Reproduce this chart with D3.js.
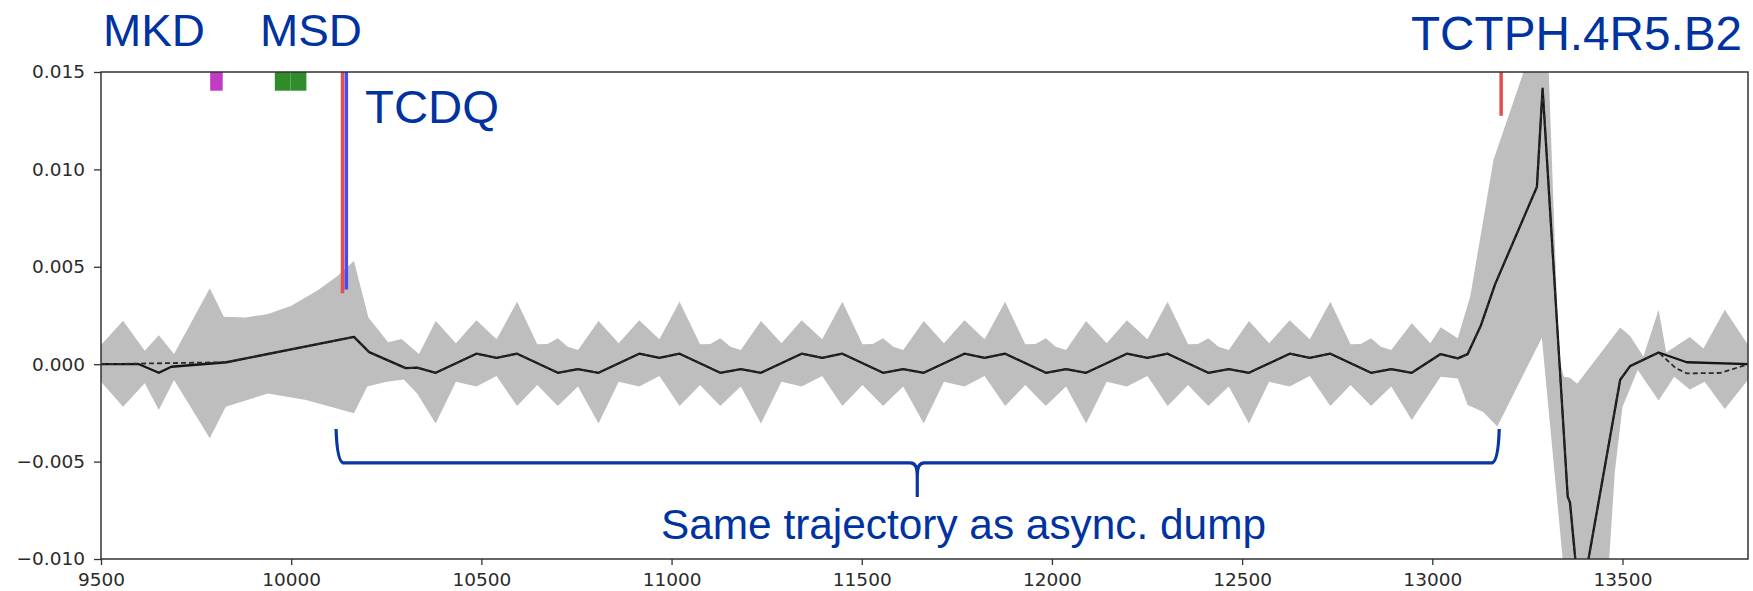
<!DOCTYPE html>
<html><head><meta charset="utf-8">
<script src="https://cdn.jsdelivr.net/npm/d3@7"></script>
<style>html,body{margin:0;padding:0;background:#fff;}svg{display:block;}</style>
</head><body>
<svg id="chart" width="1753" height="591"></svg>
<script>
// ---------- DATA ----------
const xTicks = [9500, 10000, 10500, 11000, 11500, 12000, 12500, 13000, 13500];
const xTickLabels = ["9500","10000","10500","11000","11500","12000","12500","13000","13500"];
const yTicks = [-0.010, -0.005, 0.000, 0.005, 0.010, 0.015];
const yTickLabels = ["\u22120.010","\u22120.005","0.000","0.005","0.010","0.015"];

// upper envelope of grey band
const bandUpperX = [9500, 9558, 9615, 9652, 9692, 9786, 9823, 9880, 9939, 9999, 10070, 10120, 10165, 10203, 10255, 10290, 10336,
 10380, 10433, 10487, 10540, 10594, 10647, 10674, 10701, 10727, 10754,
 10808, 10861, 10915, 10968, 11021, 11075, 11102, 11128, 11155, 11182,
 11235, 11289, 11342, 11396, 11449, 11502, 11529, 11556, 11583, 11609,
 11663, 11716, 11770, 11823, 11877, 11930, 11957, 11984, 12010, 12037,
 12090, 12144, 12197, 12251, 12304, 12358, 12384, 12411, 12438, 12465,
 12518, 12571, 12625, 12678, 12732, 12785, 12812, 12839, 12865, 12892,
 12946, 12995, 13022, 13067, 13100, 13161, 13240, 13300, 13333, 13346, 13362, 13381, 13494, 13520, 13555, 13595, 13615, 13677, 13713, 13769, 13830];
const bandUpperY = [0.00099, 0.00223, 0.00069, 0.00148, 0.00052, 0.0039, 0.00244, 0.0024, 0.00258, 0.00299, 0.0038, 0.0045, 0.0053, 0.00240, 0.00113, 0.00130, 0.00052,
 0.00222, 0.00107, 0.00225, 0.00128, 0.00321, 0.00102, 0.00104, 0.00133, 0.0009, 0.00073,
 0.00222, 0.00107, 0.00225, 0.00128, 0.00321, 0.00102, 0.00104, 0.00133, 0.0009, 0.00073,
 0.00222, 0.00107, 0.00225, 0.00128, 0.00321, 0.00102, 0.00104, 0.00133, 0.0009, 0.00073,
 0.00222, 0.00107, 0.00225, 0.00128, 0.00321, 0.00102, 0.00104, 0.00133, 0.0009, 0.00073,
 0.00222, 0.00107, 0.00225, 0.00128, 0.00321, 0.00102, 0.00104, 0.00133, 0.0009, 0.00073,
 0.00222, 0.00107, 0.00225, 0.00128, 0.00321, 0.00102, 0.00104, 0.00133, 0.0009, 0.00073,
 0.0021, 0.00107, 0.0019, 0.00133, 0.0035, 0.0105, 0.015, 0.0184, 0.0003, -0.00064, -0.0007, -0.001, 0.00188, 0.00145, 0.0004, 0.0028, 0.0006, 0.0014, 0.0008, 0.0028, 0.001];

// lower envelope of grey band
const bandLowerX = [9500, 9558, 9615, 9652, 9692, 9786, 9828, 9939, 10039, 10165, 10200, 10251, 10296, 10331,
 10380, 10433, 10487, 10540, 10594, 10647, 10701, 10754,
 10808, 10861, 10915, 10968, 11021, 11075, 11128, 11182,
 11235, 11289, 11342, 11396, 11449, 11502, 11556, 11609,
 11663, 11716, 11770, 11823, 11877, 11930, 11984, 12037,
 12090, 12144, 12197, 12251, 12304, 12358, 12411, 12465,
 12518, 12571, 12625, 12678, 12732, 12785, 12839, 12892,
 12946, 13022, 13067, 13093, 13133, 13171, 13288, 13350, 13460, 13480, 13500, 13540, 13595, 13636, 13677, 13716, 13769, 13830];
const bandLowerY = [-0.0009, -0.00218, -0.00098, -0.00235, -0.00081, -0.0038, -0.00218, -0.0015, -0.00184, -0.00252, -0.00115, -0.0009, -0.00078, -0.0015,
 -0.00305, -0.0009, -0.00115, -0.00061, -0.00215, -0.00107, -0.00215, -0.00115,
 -0.00305, -0.0009, -0.00115, -0.00061, -0.00215, -0.00107, -0.00215, -0.00115,
 -0.00305, -0.0009, -0.00115, -0.00061, -0.00215, -0.00107, -0.00215, -0.00115,
 -0.00305, -0.0009, -0.00115, -0.00061, -0.00215, -0.00107, -0.00215, -0.00115,
 -0.00305, -0.0009, -0.00115, -0.00061, -0.00215, -0.00107, -0.00215, -0.00115,
 -0.00305, -0.0009, -0.00115, -0.00061, -0.00215, -0.00107, -0.00215, -0.00115,
 -0.00287, -0.00064, -0.00073, -0.0021, -0.00244, -0.0032, 0.00136, -0.0115, -0.0115, -0.0055, -0.0022, -0.0003, -0.00186, -0.00064, -0.0013, -0.0009, -0.0023, -0.0008];

// solid orbit line
const lineX = [9500, 9600, 9652, 9685, 9830, 10165, 10205, 10301, 10331, 10380,
 10487, 10540, 10594, 10701, 10754, 10808,
 10915, 10968, 11021, 11128, 11182, 11235,
 11342, 11396, 11449, 11556, 11609, 11663,
 11770, 11823, 11877, 11984, 12037, 12090,
 12197, 12251, 12304, 12411, 12465, 12518,
 12625, 12678, 12732, 12839, 12892, 12946,
 13022, 13067, 13093, 13128, 13165, 13275, 13290, 13356, 13362, 13388, 13494, 13520, 13595, 13669, 13830];
const lineY = [0, 0, -0.00044, -0.00013, 0.0001, 0.0014, 0.00062, -0.0002, -0.00018, -0.00044,
 0.00054, 0.00033, 0.00054, -0.00044, -0.00025, -0.00044,
 0.00054, 0.00033, 0.00054, -0.00044, -0.00025, -0.00044,
 0.00054, 0.00033, 0.00054, -0.00044, -0.00025, -0.00044,
 0.00054, 0.00033, 0.00054, -0.00044, -0.00025, -0.00044,
 0.00054, 0.00033, 0.00054, -0.00044, -0.00025, -0.00044,
 0.00054, 0.00033, 0.00054, -0.00044, -0.00025, -0.00044,
 0.00052, 0.0003, 0.00052, 0.002, 0.0041, 0.0091, 0.01415, -0.0068, -0.0071, -0.0125, -0.0008, -0.0001, 0.0006, 0.0001, 0.0];

// dashed line: differs from solid only at start and end
const dashStartX = [9500, 9830];
const dashStartY = [0, 0.0001];
const dashEndX = [13640, 13669, 13758, 13830];
const dashEndY = [-0.0002, -0.00047, -0.00045, 0.0];

// element markers at top
const rectNames = ["MKD", "MSD", "MSD"];
const rectX0 = [9787, 9957, 9998];
const rectX1 = [9820, 9998, 10040];
const rectColors = ["#c03cc4", "#308c2b", "#318d2b"];
const rectBottom = 0.01404;

const vlineX = [10135, 10145, 13181];
const vlineBottom = [0.00364, 0.00384, 0.01275];
const vlineColors = ["#e2504e", "#4a4af2", "#e2504e"];

// brace annotation (data units)
const braceX = [10118, 11646, 13176];
const braceY = [-0.00333, -0.00507, -0.00682];

// ---------- CHART ----------
const svg = d3.select("#chart");
const L = 101, R = 1748, T = 72, B = 559;
const x = d3.scaleLinear().domain([9500, 13830]).range([L, R]);
const y = d3.scaleLinear().domain([-0.010, 0.015]).range([B, T]);

svg.append("defs").append("clipPath").attr("id", "clip")
  .append("rect").attr("x", L).attr("y", T).attr("width", R - L).attr("height", B - T);

const plot = svg.append("g").attr("clip-path", "url(#clip)");

// band polygon
const up = bandUpperX.map((v, i) => [v, bandUpperY[i]]);
const lo = bandLowerX.map((v, i) => [v, bandLowerY[i]]).reverse();
const poly = d3.line().x(d => x(d[0])).y(d => y(d[1]));
plot.append("path").attr("d", poly(up.concat(lo)) + "Z")
  .attr("fill", "#bebebe").attr("stroke", "none");

// markers
rectX0.forEach((v, i) => {
  plot.append("rect").attr("x", x(v)).attr("y", y(0.015))
    .attr("width", x(rectX1[i]) - x(v)).attr("height", y(rectBottom) - y(0.015))
    .attr("fill", rectColors[i]);
});
vlineX.forEach((v, i) => {
  plot.append("line").attr("x1", x(v)).attr("x2", x(v))
    .attr("y1", y(0.015)).attr("y2", y(vlineBottom[i]))
    .attr("stroke", vlineColors[i]).attr("stroke-width", 3.5);
});

// lines
const ln = d3.line().x(d => x(d[0])).y(d => y(d[1]));
const solid = lineX.map((v, i) => [v, lineY[i]]);
const mid = solid.filter(d => d[0] > 9830 && d[0] <= 13595);
const dashed = dashStartX.map((v, i) => [v, dashStartY[i]])
  .concat(mid)
  .concat(dashEndX.map((v, i) => [v, dashEndY[i]]));
plot.append("path").attr("d", ln(solid)).attr("fill", "none")
  .attr("stroke", "#151515").attr("stroke-width", 2.3).attr("stroke-linejoin", "round");
plot.append("path").attr("d", ln(dashed)).attr("fill", "none")
  .attr("stroke", "#2a2a2a").attr("stroke-width", 1.8).attr("stroke-dasharray", "5,3");

// axes
const axColor = "#333";
const xAxis = d3.axisBottom(x).tickValues(xTicks).tickFormat((d, i) => xTickLabels[i]).tickSize(6).tickPadding(8);
const yAxis = d3.axisLeft(y).tickValues(yTicks).tickFormat((d, i) => yTickLabels[i]).tickSize(7).tickPadding(9);
const gx = svg.append("g").attr("transform", `translate(0,${B})`).call(xAxis);
const gy = svg.append("g").attr("transform", `translate(${L},0)`).call(yAxis);
[gx, gy].forEach(g => {
  g.select(".domain").remove();
  g.selectAll("line").attr("stroke", axColor).attr("stroke-width", 1.3);
  g.selectAll("text").attr("fill", "#2b2b2b").style("font-family", "DejaVu Sans").style("font-size", "18.5px");
});
svg.append("rect").attr("x", L).attr("y", T).attr("width", R - L).attr("height", B - T)
  .attr("fill", "none").attr("stroke", axColor).attr("stroke-width", 1.5);

// brace
const bl = x(braceX[0]), bm = x(braceX[1]), br = x(braceX[2]);
const bt = y(braceY[0]), bb = y(braceY[1]), btip = y(braceY[2]);
const bp = d3.path();
bp.moveTo(bl, bt);
bp.quadraticCurveTo(bl + 1, bb - 2, bl + 7, bb);
bp.lineTo(bm - 7, bb);
bp.quadraticCurveTo(bm, bb, bm, bb + 12);
bp.lineTo(bm, btip);
bp.moveTo(bm, bb + 12);
bp.quadraticCurveTo(bm, bb, bm + 7, bb);
bp.lineTo(br - 7, bb);
bp.quadraticCurveTo(br - 1, bb - 2, br, bt);
svg.append("path").attr("d", bp.toString()).attr("fill", "none")
  .attr("stroke", "#0a36a3").attr("stroke-width", 3.2);

// annotation texts
const blue = "#0033a0";
const labels = [
  {t: "MKD", x: 103, y: 46, s: 44, w: 102},
  {t: "MSD", x: 260, y: 46, s: 44, w: 102},
  {t: "TCDQ", x: 365, y: 123, s: 46, w: 134},
  {t: "TCTPH.4R5.B2", x: 1411, y: 50, s: 48, w: 331},
  {t: "Same trajectory as async. dump", x: 661, y: 539, s: 42, w: 605}
];
labels.forEach(l => {
  svg.append("text").attr("x", l.x).attr("y", l.y).text(l.t)
    .attr("fill", blue).style("font-family", "Liberation Sans, Arial, sans-serif")
    .style("font-size", l.s + "px").attr("textLength", l.w).attr("lengthAdjust", "spacingAndGlyphs");
});
</script>
</body></html>
